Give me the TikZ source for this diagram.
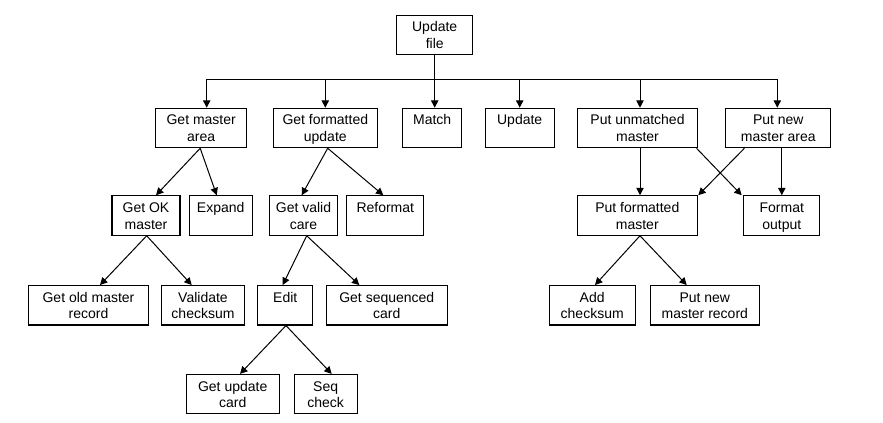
\documentclass[tikz,border=0pt]{standalone}
\usepackage{fontspec}
\setmainfont{Liberation Sans}
\usetikzlibrary{arrows.meta,calc}
\newcommand\Ta{\rule{0pt}{11.6pt}}
\begin{document}
\begin{tikzpicture}[x=0.75pt,y=-0.75pt,
 box/.style={draw, line width=0.8pt, inner sep=0pt, minimum height=29.6pt, minimum width=#1*0.75pt, align=center, font=\fontsize{10.5}{12.5}\selectfont},
 arr/.style={line width=0.75pt, -{Triangle[length=5.5pt,width=5.5pt]}},
 ln/.style={line width=0.75pt}]
\useasboundingbox (0,0) rectangle (883,423);
% row 0
\node[box=76] (top) at (434.7,35) {\Ta Update\\file\strut};
% row 1
\node[box=91] (gma) at (201.2,128) {\Ta Get master\\area\strut};
\node[box=104] (gfu) at (325.3,128) {\Ta Get formatted\\update\strut};
\node[box=59] (match) at (432.2,128) {\Ta Match\\\strut};
\node[box=69.3] (upd) at (519.7,128) {\Ta Update\\\strut};
\node[box=119.6] (pum) at (637.5,128) {\Ta Put unmatched\\master\strut};
\node[box=104.7] (pnma) at (778.3,128) {\Ta Put new\\master area\strut};
% row 2
\node[box=68] (gok) at (146,215.5) {\Ta Get OK\\master\strut};
\node[box=63.3] (exp) at (220.7,215.5) {\Ta Expand\\\strut};
\node[box=68.4] (gvc) at (303.5,215.5) {\Ta Get valid\\care\strut};
\node[box=76.7] (ref) at (385.3,215.5) {\Ta Reformat\\\strut};
\node[box=120] (pfm) at (637.3,215.5) {\Ta Put formatted\\master\strut};
\node[box=76.3] (fo) at (781.8,215.5) {\Ta Format\\output\strut};
% row 3
\node[box=120.4] (gomr) at (88.5,305.3) {\Ta Get old master\\record\strut};
\node[box=83.4] (vc) at (203,305.3) {\Ta Validate\\checksum\strut};
\node[box=55.3] (edit) at (285.3,305.3) {\Ta Edit\\\strut};
\node[box=121] (gsc) at (386.8,305.3) {\Ta Get sequenced\\card\strut};
\node[box=85.7] (ac) at (592.2,305.3) {\Ta Add\\checksum\strut};
\node[box=109] (pnmr) at (704.8,305.3) {\Ta Put new\\master record\strut};
% row 4
\node[box=93.3] (guc) at (232.7,394.2) {\Ta Get update\\card\strut};
\node[box=63.3] (sc) at (325.7,394.2) {\Ta Seq\\check\strut};
% bus
\coordinate (bl) at (206.7,79.5);
\coordinate (br) at (777.3,79.5);
\coordinate (pumin) at ($(pum.north)+(2.5,0)$);
\draw[ln] (bl) -- (br);
\draw[arr] (top.south) -- (top.south |- match.north);
\draw[arr] (bl) -- (bl |- gma.north);
\draw[arr] (gfu.north |- bl) -- (gfu.north);
\draw[arr] (upd.north |- bl) -- (upd.north);
\draw[arr] (pumin |- bl) -- (pumin);
\draw[arr] (br) -- (br |- pnma.north);
% row1 -> row2
\draw[arr] ($(gma.south)+(-1,0)$) -- ($(gok.north)+(10,0)$);
\draw[arr] ($(gma.south)+(-1,0)$) -- ($(exp.north)+(-4,0)$);
\draw[arr] ($(gfu.south)+(2.4,0)$) -- ($(gvc.north)+(-1.8,0)$);
\draw[arr] ($(gfu.south)+(2.4,0)$) -- ($(ref.north)+(-2,0)$);
\draw[arr] (pumin |- pum.south) -- (pumin |- pfm.north);
\draw[arr] ($(pum.south east)+(-1.3,0)$) -- ($(fo.north)+(-40.1,0)$);
\draw[arr] ($(pnma.south west)+(19,0)$) -- ($(pfm.north)+(61,0)$);
\draw[arr] (fo.north |- pnma.south) -- (fo.north);
% row2 -> row3
\draw[arr] ($(gok.south)+(0.7,0)$) -- ($(gomr.north)+(11.5,0)$);
\draw[arr] ($(gok.south)+(0.7,0)$) -- ($(vc.north)+(-11.3,0)$);
\draw[arr] ($(gvc.south)+(3.2,0)$) -- ($(edit.north)+(-2.6,0)$);
\draw[arr] ($(gvc.south)+(3.2,0)$) -- ($(gsc.north)+(-27.5,0)$);
\draw[arr] ($(pfm.south)+(2.7,0)$) -- ($(ac.north)+(2.8,0)$);
\draw[arr] ($(pfm.south)+(2.7,0)$) -- ($(pnmr.north)+(-18.1,0)$);
% row3 -> row4
\draw[arr] ($(edit.south)+(0.7,0)$) -- ($(guc.north)+(7.3,0)$);
\draw[arr] ($(edit.south)+(0.7,0)$) -- ($(sc.north)+(6,0)$);
\end{tikzpicture}
\end{document}
